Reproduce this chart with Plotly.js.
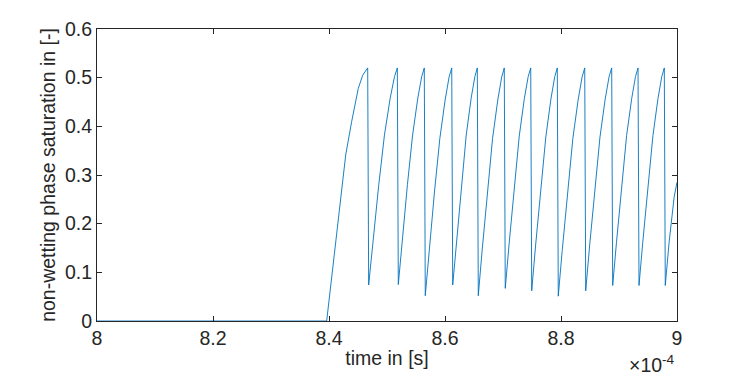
<!DOCTYPE html>
<html>
<head>
<meta charset="utf-8">
<script src="https://cdn.plot.ly/plotly-3.0.1.min.js"></script>
<style>
  html, body { margin: 0; padding: 0; background: #fff; }
  #chart { width: 747px; height: 378px; }
</style>
</head>
<body>
<div id="chart"></div>
<script>
// time in seconds, saturation (one row per tooth)
const timeS = [
  8.0000e-4, 8.3960e-4,
  8.4091e-4, 8.4219e-4, 8.4288e-4, 8.4391e-4, 8.4505e-4, 8.4581e-4, 8.4667e-4,
  8.4684e-4, 8.4758e-4, 8.4857e-4, 8.4956e-4, 8.5055e-4, 8.5129e-4, 8.5178e-4,
  8.5195e-4, 8.5262e-4, 8.5352e-4, 8.5441e-4, 8.5531e-4, 8.5598e-4, 8.5643e-4,
  8.5660e-4, 8.5728e-4, 8.5820e-4, 8.5911e-4, 8.6002e-4, 8.6070e-4, 8.6116e-4,
  8.6133e-4, 8.6197e-4, 8.6281e-4, 8.6366e-4, 8.6451e-4, 8.6515e-4, 8.6557e-4,
  8.6574e-4, 8.6641e-4, 8.6731e-4, 8.6820e-4, 8.6910e-4, 8.6977e-4, 8.7022e-4,
  8.7039e-4, 8.7105e-4, 8.7193e-4, 8.7280e-4, 8.7368e-4, 8.7434e-4, 8.7478e-4,
  8.7495e-4, 8.7561e-4, 8.7649e-4, 8.7738e-4, 8.7826e-4, 8.7892e-4, 8.7936e-4,
  8.7953e-4, 8.8021e-4, 8.8113e-4, 8.8204e-4, 8.8295e-4, 8.8363e-4, 8.8409e-4,
  8.8426e-4, 8.8493e-4, 8.8583e-4, 8.8672e-4, 8.8762e-4, 8.8829e-4, 8.8874e-4,
  8.8891e-4, 8.8957e-4, 8.9044e-4, 8.9131e-4, 8.9219e-4, 8.9284e-4, 8.9328e-4,
  8.9345e-4, 8.9410e-4, 8.9498e-4, 8.9585e-4, 8.9672e-4, 8.9737e-4, 8.9781e-4,
  8.9798e-4, 8.9864e-4, 8.9951e-4, 9.0000e-4
];
const saturation = [
  0, 0,
  0.136, 0.273, 0.341, 0.410, 0.478, 0.505, 0.520,
  0.074, 0.163, 0.279, 0.382, 0.458, 0.502, 0.520,
  0.075, 0.164, 0.280, 0.382, 0.458, 0.502, 0.520,
  0.052, 0.146, 0.267, 0.375, 0.454, 0.501, 0.520,
  0.074, 0.163, 0.279, 0.382, 0.458, 0.502, 0.520,
  0.052, 0.146, 0.267, 0.375, 0.454, 0.501, 0.520,
  0.067, 0.158, 0.275, 0.380, 0.457, 0.502, 0.520,
  0.062, 0.154, 0.273, 0.378, 0.456, 0.502, 0.520,
  0.051, 0.145, 0.267, 0.375, 0.454, 0.501, 0.520,
  0.062, 0.154, 0.273, 0.378, 0.456, 0.502, 0.520,
  0.073, 0.162, 0.279, 0.381, 0.457, 0.502, 0.520,
  0.073, 0.162, 0.279, 0.381, 0.457, 0.502, 0.520,
  0.073, 0.162, 0.255, 0.285
];

const xTickVals = [8.0e-4, 8.2e-4, 8.4e-4, 8.6e-4, 8.8e-4, 9.0e-4];
const xTickText = ['8', '8.2', '8.4', '8.6', '8.8', '9'];
const yTickVals = [0, 0.1, 0.2, 0.3, 0.4, 0.5, 0.6];
const yTickText = ['0', '0.1', '0.2', '0.3', '0.4', '0.5', '0.6'];

const font = { family: 'Liberation Sans, Arial, sans-serif', size: 19.5, color: '#262626' };

const axisBase = {
  showgrid: false,
  zeroline: false,
  showline: true,
  linecolor: '#262626',
  linewidth: 1,
  mirror: 'ticks',
  ticks: 'inside',
  ticklen: 5,
  tickcolor: '#262626',
  tickfont: font
};

const trace = {
  x: timeS,
  y: saturation,
  type: 'scatter',
  mode: 'lines',
  line: { color: '#0072BD', width: 0.9 },
  hoverinfo: 'skip'
};

const layout = {
  width: 747,
  height: 378,
  margin: { l: 97, r: 70, t: 29, b: 57 },
  paper_bgcolor: '#ffffff',
  plot_bgcolor: '#ffffff',
  showlegend: false,
  font: font,
  xaxis: Object.assign({}, axisBase, {
    range: [8e-4, 9e-4],
    tickmode: 'array',
    tickvals: xTickVals,
    ticktext: xTickText,
    title: { text: 'time in [s]', font: font, standoff: 2 }
  }),
  yaxis: Object.assign({}, axisBase, {
    range: [0, 0.6],
    tickmode: 'array',
    tickvals: yTickVals,
    ticktext: yTickText,
    title: { text: 'non-wetting phase saturation in [-]', font: font, standoff: 4 }
  }),
  annotations: [{
    xref: 'paper', yref: 'paper',
    x: 1.0, y: -0.195,
    xanchor: 'right', yanchor: 'bottom',
    text: '\u00d710<sup>-4</sup>',
    showarrow: false,
    font: font
  }]
};

Plotly.newPlot('chart', [trace], layout, { staticPlot: true, displayModeBar: false });
</script>
</body>
</html>
